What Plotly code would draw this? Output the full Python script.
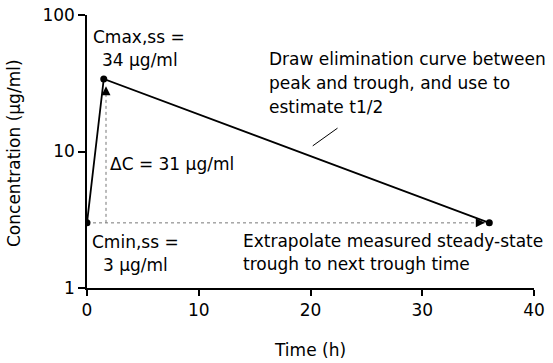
import math
import plotly.graph_objects as go

# Data
time_h = [0, 1.5, 36]
conc = [3, 34, 3]
guide_x = 1.7            # x of vertical dotted ΔC guide (h)
peak_arrow_tip = 30      # top of vertical dotted arrow (µg/ml)
trough_arrow_tip = 35.6  # end of horizontal dotted arrow (h)
x_ticks = [0, 10, 20, 30, 40]
y_ticks = [1, 10, 100]

FONT = "DejaVu Sans, Arial, sans-serif"
FS = 17
fig = go.Figure()

# Dotted guide lines
fig.add_trace(go.Scatter(x=[guide_x, guide_x], y=[conc[0], peak_arrow_tip], mode="lines",
                         line=dict(color="#777", width=1, dash="dot"), hoverinfo="skip"))
fig.add_trace(go.Scatter(x=[time_h[0], trough_arrow_tip], y=[conc[0], conc[0]], mode="lines",
                         line=dict(color="#777", width=1, dash="dot"), hoverinfo="skip"))
# Main concentration curve
fig.add_trace(go.Scatter(x=time_h, y=conc, mode="lines+markers",
                         line=dict(color="black", width=1.8),
                         marker=dict(color="black", size=7), hoverinfo="skip"))

ann = []
# arrowheads
ann.append(dict(x=guide_x, y=math.log10(peak_arrow_tip), ax=guide_x, ay=math.log10(peak_arrow_tip) - 0.05,
                xref="x", yref="y", axref="x", ayref="y", text="", showarrow=True,
                arrowhead=2, arrowsize=1.2, arrowwidth=1.5, arrowcolor="black"))
ann.append(dict(x=trough_arrow_tip, y=math.log10(conc[0]), ax=trough_arrow_tip - 0.6, ay=math.log10(conc[0]),
                xref="x", yref="y", axref="x", ayref="y", text="", showarrow=True,
                arrowhead=2, arrowsize=1.2, arrowwidth=1.5, arrowcolor="black"))
# pointer line
ann.append(dict(x=20.2, y=math.log10(11.0), ax=22.55, ay=math.log10(15.1),
                xref="x", yref="y", axref="x", ayref="y", text="", showarrow=True,
                arrowhead=0, arrowwidth=1, arrowcolor="black"))

# paper coordinates: plot area x 87..534, y 15..288 (pixels)
def px(xp): return (xp - 87) / (534 - 87)
def py(yp): return (288 - yp) / (288 - 15)

def txt(x, y, s, **kw):
    d = dict(x=px(x), y=py(y), xref="paper", yref="paper", text=s, showarrow=False,
             xanchor="left", yanchor="middle", font=dict(family=FONT, size=FS, color="black"))
    d.update(kw)
    ann.append(d)

txt(91, 37, "Cmax,ss =")
txt(100, 60, "34 µg/ml")
txt(267, 59, "Draw elimination curve between")
txt(267, 83, "peak and trough, and use to")
txt(267, 107, "estimate t1/2")
txt(108, 164, "ΔC = 31 µg/ml")
txt(90, 242, "Cmin,ss =")
txt(101, 265, "3 µg/ml")
txt(241, 241, "Extrapolate measured steady-state")
txt(241, 264, "trough to next trough time")
# axis titles
txt(310, 350, "Time (h)", xanchor="center")
txt(14, 153, "Concentration (µg/ml)", xanchor="center", textangle=-90)

fig.update_layout(
    width=553, height=363,
    margin=dict(l=87, r=19, t=15, b=75),
    paper_bgcolor="white", plot_bgcolor="white",
    showlegend=False,
    font=dict(family=FONT, size=FS, color="black"),
    annotations=ann,
    xaxis=dict(range=[0, 40], tickvals=x_ticks, showline=True, linecolor="black", linewidth=1.5,
               ticks="outside", ticklen=6, tickcolor="black", tickwidth=1.5, showgrid=False,
               zeroline=False, automargin=False),
    yaxis=dict(type="log", range=[0, 2], tickvals=y_ticks, showline=True, linecolor="black", linewidth=1.5,
               ticks="outside", ticklen=7, tickcolor="black", tickwidth=1.5, showgrid=False,
               zeroline=False, automargin=False),
)
fig.write_html("out.html", config={"displayModeBar": False},
               post_script="document.body.style.margin='0';")
